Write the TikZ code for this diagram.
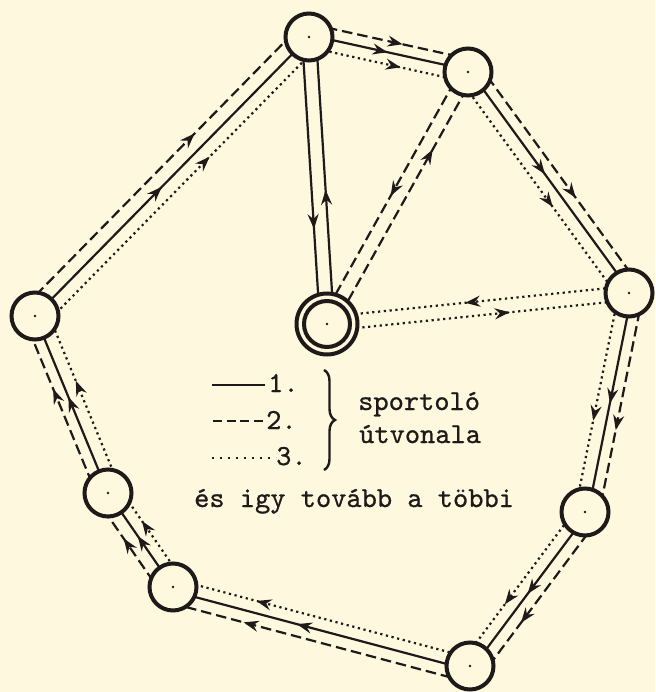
\documentclass[tikz,border=0pt]{standalone}
\usepackage{fontspec}
\newfontfamily\tw[FakeBold=0.7]{lmmono10-regular.otf}
\usetikzlibrary{calc,decorations.markings,decorations.pathreplacing,arrows.meta}
\definecolor{paper}{RGB}{254,248,222}
\definecolor{ink}{RGB}{30,26,26}
\pgfdeclarelayer{bgpaper}
\pgfdeclarelayer{edges}
\pgfsetlayers{bgpaper,edges,main}
\tikzset{
  rtip/.tip={Stealth[length=15pt,width=11pt,inset=5pt]},
  station/.style={circle, draw=ink, line width=4pt, minimum size=47pt, inner sep=0pt, fill=paper},
  solidl/.style={draw=ink, line width=2.2pt},
  dashl/.style={draw=ink, line width=2.2pt, dash pattern=on 10.5pt off 5pt},
  dotl/.style={draw=ink, line width=2.2pt, dash pattern=on 2.2pt off 3.6pt},
  txt/.style={font=\tw\fontsize{29pt}{31pt}\selectfont\bfseries, text=ink, inner sep=0pt, anchor=base west},
  cdot/.style={fill=ink},
}
\newcommand\rte[5]{\draw[#1, postaction={decorate, decoration={markings, mark=at position #5 with {\arrow{rtip}}}}] ($(#2)!#4!90:(#3)$) -- ($(#3)!#4!-90:(#2)$);}
\begin{document}
\begin{tikzpicture}[x=1pt, y=-1pt, color=ink]
\begin{pgfonlayer}{bgpaper}
\fill[paper] (0,0) rectangle (655,692);
\end{pgfonlayer}
\useasboundingbox (0,0) rectangle (655,692);
% stations
\node[station] (A) at (309,37) {};
\node[station] (B) at (468,72) {};
\node[station] (C) at (629,293) {};
\node[station, minimum size=61pt] (D) at (327,324) {};
\node[station] (E) at (35,316) {};
\node[station] (F) at (108,493) {};
\node[station] (G) at (173,587) {};
\node[station] (H) at (585,512) {};
\node[station] (I) at (470,666) {};
\draw[line width=4pt] (D.center) circle (23pt);
\foreach \n in {A,B,C,D,E,F,G,H,I} \fill[cdot] (\n.center) circle (1.4pt);
% routes
\begin{pgfonlayer}{edges}
\rte{dashl}{A}{B}{13pt}{93pt}
\rte{solidl}{A}{B}{2pt}{80pt}
\rte{dotl}{A}{B}{-10pt}{96pt}
\rte{dashl}{B}{C}{13pt}{165pt}
\rte{solidl}{B}{C}{2pt}{128pt}
\rte{dotl}{B}{C}{-11pt}{159pt}
\rte{dashl}{C}{H}{14pt}{137pt}
\rte{solidl}{C}{H}{3pt}{112pt}
\rte{dotl}{C}{H}{-10pt}{132pt}
\rte{dashl}{H}{I}{15pt}{127pt}
\rte{solidl}{H}{I}{3pt}{100pt}
\rte{dotl}{H}{I}{-9pt}{122pt}
\rte{dashl}{I}{G}{16pt}{230pt}
\rte{solidl}{I}{G}{4pt}{178pt}
\rte{dotl}{I}{G}{-8pt}{223pt}
\rte{dashl}{G}{F}{13pt}{68pt}
\rte{solidl}{G}{F}{0pt}{62pt}
\rte{dotl}{G}{F}{-12pt}{72pt}
\rte{dashl}{F}{E}{11pt}{117pt}
\rte{solidl}{F}{E}{0pt}{104pt}
\rte{dotl}{F}{E}{-13pt}{116pt}
\rte{dashl}{E}{A}{14pt}{242pt}
\rte{solidl}{E}{A}{0pt}{181pt}
\rte{dotl}{E}{A}{-13pt}{236pt}
\rte{solidl}{A}{D}{-7pt}{192pt}
\rte{solidl}{D}{A}{-7pt}{134pt}
\rte{dashl}{B}{D}{-7pt}{146pt}
\rte{dashl}{D}{B}{-7pt}{204pt}
\rte{dotl}{C}{D}{-7pt}{164pt}
\rte{dotl}{D}{C}{-7pt}{183pt}
\end{pgfonlayer}
% legend
\coordinate (k1a) at (212,385); \coordinate (k1b) at (265,385);
\coordinate (k2a) at (213,421); \coordinate (k2b) at (267,421);
\coordinate (k3a) at (212,458); \coordinate (k3b) at (276,458);
\draw[draw=ink, line width=2.4pt] (k1a) -- (k1b);
\draw[draw=ink, line width=2.2pt, dash pattern=on 9pt off 4.5pt] (k2a) -- (k2b);
\draw[draw=ink, line width=2pt, dash pattern=on 2pt off 6pt] (k3a) -- (k3b);
\node[txt] (n1) at (268,392) {1.};
\node[txt] (n2) at (266,429) {2.};
\node[txt] (n3) at (276,465) {3.};
\coordinate (br1) at (324,370); \coordinate (br2) at (324,470);
\draw[line width=2.4pt, decorate, decoration={brace, amplitude=11pt}] (br1) -- (br2);
\node[txt] (s1) at (358,410) {sportoló};
\node[txt] (s2) at (359,443) {útvonala};
\node[txt] (s3) at (194,507) {és igy tovább a többi};
\end{tikzpicture}
\end{document}
